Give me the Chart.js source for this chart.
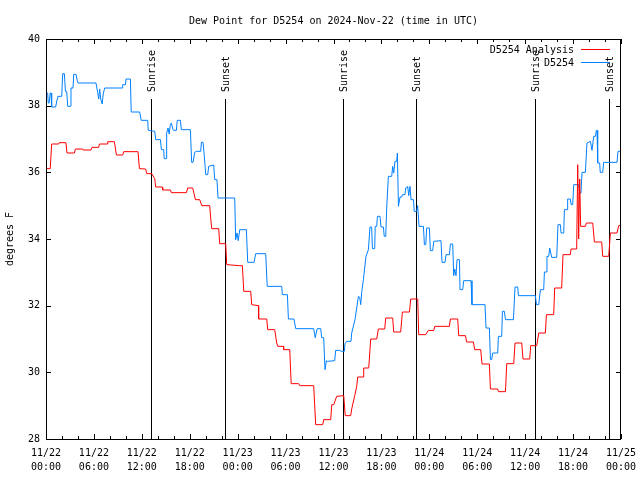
<!DOCTYPE html>
<html>
<head>
<meta charset="utf-8">
<script src="https://cdn.jsdelivr.net/npm/chart.js@4"></script>
<style>
  body { margin: 0; background: #fff; }
  #wrap { width: 640px; height: 480px; }
</style>
</head>
<body>
<div id="wrap"><canvas id="dewChart" width="640" height="480"></canvas></div>
<script>
// hours since 2024-11-22 00:00 UTC
const analysisHours = [0.05,0.53,0.71,1.59,1.65,2.50,2.63,3.56,3.68,4.60,4.66,5.63,5.76,6.60,6.69,7.64,7.73,8.56,8.82,9.60,9.73,11.52,11.70,12.48,12.61,13.24,13.61,13.74,14.58,14.61,15.58,15.70,17.58,17.74,18.37,18.71,19.25,19.50,20.50,20.62,20.75,21.63,21.75,22.50,22.63,24.26,24.59,24.76,25.63,25.76,26.60,26.63,27.64,27.76,28.64,28.89,29.01,29.73,29.76,30.52,30.70,31.64,31.77,33.52,33.77,34.65,34.77,35.65,35.78,36.03,36.40,37.28,37.47,38.15,38.28,38.66,38.91,39.03,39.74,39.78,40.41,40.66,41.41,41.62,42.41,42.54,43.41,43.54,44.41,44.63,45.51,45.67,46.55,46.67,47.55,47.88,48.55,48.67,50.51,50.64,51.55,51.68,52.52,52.68,53.52,53.68,54.43,54.60,55.52,55.65,56.56,56.65,57.53,57.69,58.57,58.73,59.57,59.73,60.57,60.69,61.45,61.70,62.53,62.66,63.57,63.70,64.57,64.74,65.66,65.74,66.45,66.58,66.70,66.83,66.95,67.54,67.67,68.46,68.67,69.58,69.71,70.46,70.67,71.50,71.71,71.96];
const analysisDew = [36.11,36.11,36.85,36.85,36.89,36.89,36.58,36.58,36.70,36.70,36.67,36.67,36.75,36.75,36.85,36.85,36.92,36.92,36.52,36.52,36.62,36.62,36.11,36.10,35.96,35.96,35.81,35.56,35.56,35.47,35.47,35.39,35.39,35.53,35.53,35.18,35.18,35.00,35.00,34.63,34.31,34.31,33.86,33.86,33.23,33.20,33.20,32.43,32.43,32.03,32.00,31.60,31.60,31.28,31.28,30.88,30.78,30.78,30.68,30.68,29.66,29.66,29.60,29.60,28.43,28.43,28.58,28.58,29.03,29.03,29.28,29.30,28.70,28.70,28.90,29.30,29.58,29.86,29.86,30.13,30.13,31.00,31.00,31.30,31.30,31.63,31.63,31.21,31.21,31.81,31.81,32.20,32.20,31.13,31.13,31.26,31.25,31.38,31.38,31.60,31.60,31.10,31.10,30.91,30.91,30.68,30.68,30.25,30.25,29.50,29.50,29.42,29.42,30.26,30.26,30.88,30.88,30.40,30.40,30.80,30.80,31.18,31.18,31.73,31.73,32.53,32.53,33.53,33.53,33.70,33.70,36.23,34.00,35.80,34.38,34.38,34.48,34.48,33.91,33.91,33.48,33.48,34.18,34.18,34.40,34.40];

const obsHours = [0.09,0.21,0.28,0.40,0.53,0.63,0.71,1.21,1.40,1.47,1.97,2.09,2.30,2.43,2.59,2.72,3.06,3.13,3.38,3.47,3.76,3.91,4.01,6.26,6.47,6.60,6.72,6.85,7.04,7.16,7.35,9.52,9.60,9.94,10.02,10.57,10.67,11.73,11.92,12.73,12.80,13.61,13.74,14.33,14.45,14.74,14.80,15.08,15.11,15.28,15.43,15.55,15.70,15.87,15.99,16.33,16.43,16.83,16.95,18.08,18.24,18.41,18.62,18.83,19.37,19.46,19.66,19.81,20.00,20.25,20.37,21.00,21.13,21.41,21.54,23.63,23.75,23.92,24.07,24.26,25.09,25.26,26.05,26.26,27.51,27.70,29.51,29.60,30.23,30.35,31.05,31.27,33.52,33.71,33.96,34.40,34.52,34.77,34.94,35.11,35.24,36.15,36.27,36.78,37.03,37.36,37.44,37.65,38.19,38.28,38.69,39.12,39.28,39.41,39.53,39.74,40.07,40.37,40.57,40.78,40.87,41.16,41.22,41.41,41.50,41.82,41.95,42.25,42.35,42.54,42.66,42.87,43.29,43.41,43.54,43.70,43.91,44.00,44.13,44.33,44.54,44.63,44.95,45.04,45.17,45.29,45.42,45.58,45.71,46.01,46.11,46.42,46.54,46.71,47.26,47.38,47.55,47.67,48.01,48.13,48.42,48.55,49.46,49.59,49.96,50.09,50.51,50.64,50.93,51.05,51.18,51.34,51.47,51.77,51.84,52.18,52.30,53.22,53.34,54.97,55.10,55.52,55.65,55.81,55.93,56.56,56.65,57.06,57.15,57.40,57.53,58.53,58.73,59.07,59.15,61.28,61.41,61.70,61.91,62.32,62.41,62.66,62.73,62.95,63.07,63.32,63.95,64.11,64.41,64.49,64.83,64.91,65.24,65.32,65.66,65.76,65.95,66.08,66.70,66.83,66.99,67.12,67.54,67.74,68.17,68.37,68.58,68.80,68.92,69.00,69.08,69.33,69.40,69.71,69.83,71.50,71.63,71.93];
const obsDew = [38.38,38.38,38.08,38.08,38.38,38.38,37.96,37.96,38.20,38.28,38.28,38.96,38.96,38.43,38.43,37.98,37.98,38.53,38.53,38.94,38.94,38.76,38.68,38.68,38.40,38.20,38.50,38.20,38.05,38.35,38.53,38.53,38.63,38.63,38.80,38.80,37.81,37.81,37.56,37.56,37.26,37.23,36.98,36.98,36.68,36.68,36.41,36.41,37.18,37.33,37.15,37.40,37.48,37.30,37.26,37.26,37.56,37.56,37.28,37.28,36.30,36.30,36.60,36.63,36.63,36.90,36.90,36.53,35.93,35.93,36.18,36.22,35.78,35.78,35.23,35.23,33.98,34.18,33.95,34.28,34.28,33.30,33.30,33.56,33.56,32.58,32.58,32.33,32.33,31.60,31.60,31.31,31.31,31.04,31.31,31.31,31.04,31.04,30.08,30.35,30.33,30.35,30.66,30.66,30.63,30.63,30.86,30.93,30.93,31.18,31.58,32.28,32.25,32.03,32.40,32.78,33.48,33.68,34.36,34.36,33.71,33.71,34.38,34.38,34.68,34.68,34.36,34.36,34.08,34.08,34.93,35.88,35.88,36.18,35.98,36.33,36.33,36.58,34.98,35.26,35.26,35.33,35.33,35.53,35.53,35.58,35.30,35.58,35.18,35.18,34.83,34.83,35.00,34.38,34.38,33.83,33.83,34.33,34.33,33.65,33.65,33.93,33.95,33.30,33.30,33.53,33.53,33.85,33.85,32.90,33.10,32.90,33.38,33.38,32.48,32.48,32.75,32.75,32.03,32.03,31.33,31.33,30.38,30.38,30.58,30.58,31.08,31.08,31.83,31.83,31.58,31.58,32.56,32.56,32.30,32.30,32.03,32.03,32.48,32.48,33.01,33.01,33.48,33.48,33.73,33.45,33.45,34.43,34.43,34.18,34.18,34.88,34.88,35.20,35.20,35.03,35.03,35.63,35.63,35.38,35.38,36.00,36.00,36.88,36.93,36.66,37.08,37.08,37.26,37.26,36.28,36.28,36.00,36.00,36.30,36.30,36.63,36.63];

const sunHours = [13.16, 22.44, 37.23, 46.38, 61.17, 70.49];
const sunLabels = ['Sunrise', 'Sunset', 'Sunrise', 'Sunset', 'Sunrise', 'Sunset'];

const xTickDays = ['11/22','11/22','11/22','11/22','11/23','11/23','11/23','11/23','11/24','11/24','11/24','11/24','11/25'];
const xTickTimes = ['00:00','06:00','12:00','18:00','00:00','06:00','12:00','18:00','00:00','06:00','12:00','18:00','00:00'];

const monoFont = "'DejaVu Sans Mono', 'Liberation Mono', monospace";

function toPoints(xs, ys) {
  return xs.map((x, i) => ({ x: x, y: ys[i] }));
}

// gnuplot-like frame, inward ticks, sunrise/sunset markers, legend
const gnuplotDecor = {
  id: 'gnuplotDecor',
  beforeDatasetsDraw(chart) {
    const { ctx, chartArea, scales } = chart;
    const { top, bottom } = chartArea;
    ctx.save();
    ctx.strokeStyle = '#000';
    ctx.lineWidth = 1;
    ctx.font = '10px ' + monoFont;
    ctx.fillStyle = '#000';
    sunHours.forEach((h, i) => {
      const px = Math.round(scales.x.getPixelForValue(h)) + 0.5;
      ctx.beginPath();
      ctx.moveTo(px, top + 60);
      ctx.lineTo(px, bottom);
      ctx.stroke();
      ctx.save();
      ctx.translate(px + 1, top + 53);
      ctx.rotate(-Math.PI / 2);
      ctx.textAlign = 'left';
      ctx.textBaseline = 'middle';
      ctx.fillText(sunLabels[i], 0, 0);
      ctx.restore();
    });
    ctx.restore();
  },
  afterDraw(chart) {
    const { ctx, chartArea, scales } = chart;
    const { left, right, top, bottom } = chartArea;
    ctx.save();
    ctx.strokeStyle = '#000';
    ctx.lineWidth = 1;
    ctx.strokeRect(left + 0.5, top + 0.5, right - left - 1, bottom - top);

    ctx.beginPath();
    for (let h = 0; h <= 72; h += 2) {
      const px = Math.round(scales.x.getPixelForValue(h)) + 0.5;
      const len = h % 6 === 0 ? 5 : 3;
      ctx.moveTo(px, bottom);
      ctx.lineTo(px, bottom - len);
      ctx.moveTo(px, top);
      ctx.lineTo(px, top + len);
    }
    for (let v = 28; v <= 40; v += 2) {
      const py = Math.round(scales.y.getPixelForValue(v)) + 0.5;
      ctx.moveTo(left, py);
      ctx.lineTo(left + 5, py);
      ctx.moveTo(right, py);
      ctx.lineTo(right - 5, py);
    }
    ctx.stroke();

    // legend
    ctx.font = '10px ' + monoFont;
    ctx.textAlign = 'right';
    ctx.textBaseline = 'middle';
    chart.data.datasets.forEach((ds, i) => {
      const y = top + 11 + i * 13;
      ctx.fillStyle = '#000';
      ctx.fillText(ds.label, right - 47, y);
      ctx.strokeStyle = ds.borderColor;
      ctx.beginPath();
      ctx.moveTo(right - 40, Math.round(y) - 0.5);
      ctx.lineTo(right - 11, Math.round(y) - 0.5);
      ctx.stroke();
    });
    ctx.restore();
  }
};

new Chart(document.getElementById('dewChart'), {
  type: 'line',
  data: {
    datasets: [{
      label: 'D5254 Analysis',
      data: toPoints(analysisHours, analysisDew),
      borderColor: '#ff0000',
      borderWidth: 1,
      pointRadius: 0,
      tension: 0,
      fill: false
    },
    {
      label: 'D5254',
      data: toPoints(obsHours, obsDew),
      borderColor: '#0080ff',
      borderWidth: 1,
      pointRadius: 0,
      tension: 0,
      fill: false
    }]
  },
  options: {
    responsive: false,
    animation: false,
    layout: {
      padding: { left: 0, right: 19, top: 0, bottom: 0 }
    },
    plugins: {
      legend: { display: false },
      tooltip: { enabled: false },
      title: {
        display: true,
        fullSize: false,
        text: 'Dew Point for D5254 on 2024-Nov-22 (time in UTC)',
        color: '#000',
        font: { family: monoFont, size: 10, weight: 'normal', lineHeight: 1.2 },
        padding: { top: 15, bottom: 12 }
      }
    },
    scales: {
      x: {
        type: 'linear',
        min: 0,
        max: 72,
        grid: { display: false, drawTicks: false },
        border: { display: false },
        afterFit(scale) {
          scale.height = 41;
          scale.paddingLeft = 0;
          scale.paddingRight = 0;
        },
        ticks: {
          stepSize: 6,
          autoSkip: false,
          maxRotation: 0,
          padding: 7,
          color: '#000',
          font: { family: monoFont, size: 10, lineHeight: 1.4 },
          callback: (value, index) => [xTickDays[index], xTickTimes[index]]
        }
      },
      y: {
        min: 28,
        max: 40,
        grid: { display: false, drawTicks: false },
        border: { display: false },
        afterFit(scale) { scale.width = 46; },
        ticks: {
          stepSize: 2,
          padding: 6,
          color: '#000',
          font: { family: monoFont, size: 10 }
        },
        title: {
          display: true,
          text: 'degrees F',
          color: '#000',
          font: { family: monoFont, size: 10, lineHeight: 1.2 },
          padding: { top: 4, bottom: 0 }
        }
      }
    }
  },
  plugins: [gnuplotDecor]
});
</script>
</body>
</html>
